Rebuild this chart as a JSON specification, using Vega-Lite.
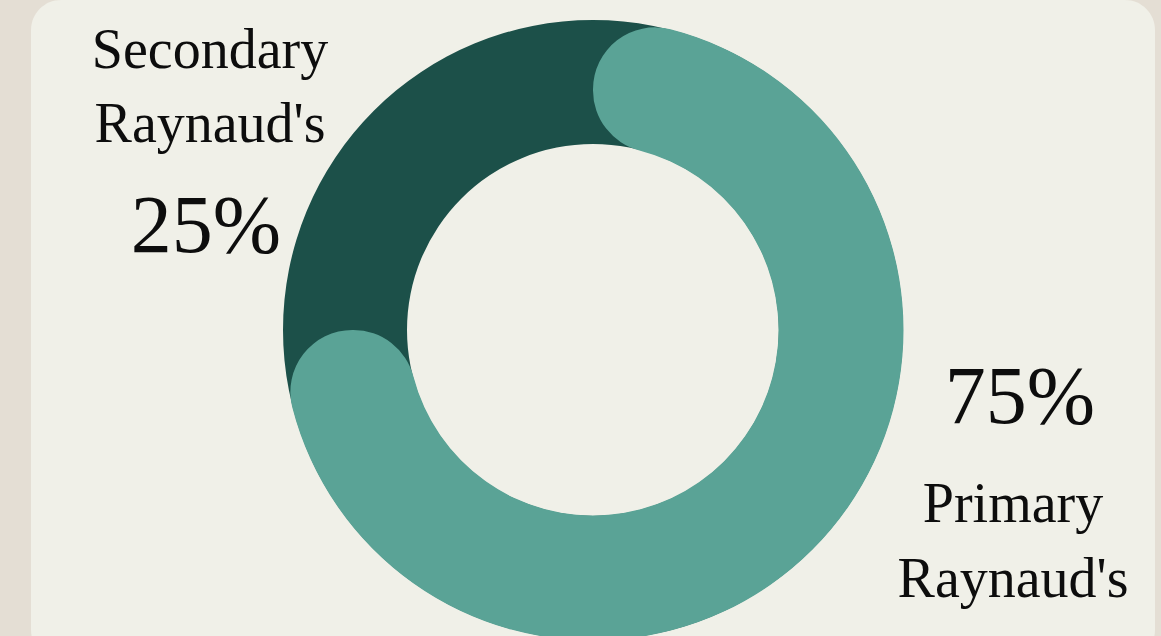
{
  "$schema": "https://vega.github.io/schema/vega-lite/v6.json",
  "width": 1124,
  "height": 660,
  "autosize": {"type": "none"},
  "padding": {"left": 31, "top": 0, "right": 6, "bottom": -24},
  "background": "#e4ded4",
  "view": {"fill": "#f0f0e8", "stroke": null, "cornerRadius": 30},
  "config": {
    "text": {"font": "Liberation Serif", "color": "#0d0d0d"}
  },
  "data": {
    "values": [
      {"group": "Primary Raynaud's", "share": 0.75},
      {"group": "Secondary Raynaud's", "share": 0.25}
    ]
  },
  "layer": [
    {
      "mark": {"type": "arc", "outerRadius": 310, "innerRadius": 186, "color": "#1c5049"},
      "encoding": {
        "theta": {"aggregate": "sum", "field": "share", "type": "quantitative", "scale": {"domain": [0, 1]}}
      }
    },
    {
      "transform": [{"filter": "datum.group === \"Primary Raynaud's\""}],
      "mark": {"type": "arc", "outerRadius": 310.5, "innerRadius": 185.5, "cornerRadius": 62, "color": "#5aa396"},
      "encoding": {
        "theta": {"field": "share", "type": "quantitative", "stack": true, "scale": {"domain": [0, 1]}}
      }
    },
    {
      "transform": [{"filter": "datum.group === \"Secondary Raynaud's\""}],
      "mark": {"type": "text", "fontSize": 56, "align": "center", "baseline": "alphabetic", "lineBreak": " ", "lineHeight": 74, "dx": -383, "dy": -262},
      "encoding": {"text": {"field": "group", "type": "nominal"}}
    },
    {
      "transform": [{"filter": "datum.group === \"Secondary Raynaud's\""}],
      "mark": {"type": "text", "fontSize": 82, "align": "center", "baseline": "alphabetic", "dx": -387, "dy": -78},
      "encoding": {"text": {"field": "share", "type": "quantitative", "format": ".0%"}}
    },
    {
      "transform": [{"filter": "datum.group === \"Primary Raynaud's\""}],
      "mark": {"type": "text", "fontSize": 82, "align": "center", "baseline": "alphabetic", "dx": 427, "dy": 93},
      "encoding": {"text": {"field": "share", "type": "quantitative", "format": ".0%"}}
    },
    {
      "transform": [{"filter": "datum.group === \"Primary Raynaud's\""}],
      "mark": {"type": "text", "fontSize": 56, "align": "center", "baseline": "alphabetic", "lineBreak": " ", "lineHeight": 75, "dx": 420, "dy": 192},
      "encoding": {"text": {"field": "group", "type": "nominal"}}
    }
  ]
}
